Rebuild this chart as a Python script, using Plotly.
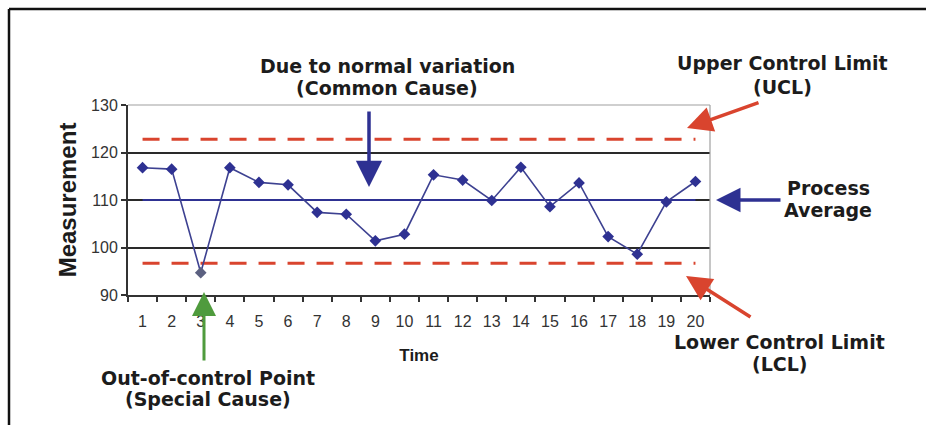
import plotly.graph_objects as go

# Control chart data
time_labels = [str(i) for i in range(1, 21)]
measurements = [116.8, 116.5, 94.7, 116.8, 113.7, 113.2, 107.4, 107.0, 101.4, 102.8,
                115.3, 114.2, 109.9, 116.9, 108.6, 113.6, 102.3, 98.6, 109.6, 113.9]
process_average = 110.0
upper_limit = 122.8
lower_limit = 96.7
y_ticks = [90, 100, 110, 120, 130]
grid_values = [100, 110, 120]

# Figure geometry (pixels)
W, H = 926, 425
ML, MR, MT, MB = 128, 216, 105, 130
PW, PH = W - ML - MR, H - MT - MB


def px(x):
    return (x - ML) / PW


def py(y):
    return (H - MB - y) / PH


NAVY = "#2e3192"
RED = "#d9442e"
GREEN = "#4f9b3d"
TEXT = "#1c1c1c"
ANN_FONT = dict(family="DejaVu Sans", size=19, color=TEXT, weight="bold")
TICK_FONT = dict(family="Liberation Sans, Arial", size=16, color="#333333")

fig = go.Figure()

fig.add_trace(go.Scatter(
    x=time_labels, y=[upper_limit] * len(time_labels), mode="lines",
    line=dict(color=RED, width=3, dash="17px,12px"), hoverinfo="skip", showlegend=False))
fig.add_trace(go.Scatter(
    x=time_labels, y=[lower_limit] * len(time_labels), mode="lines",
    line=dict(color=RED, width=3, dash="17px,12px"), hoverinfo="skip", showlegend=False))
fig.add_trace(go.Scatter(
    x=time_labels, y=[process_average] * len(time_labels), mode="lines",
    line=dict(color=NAVY, width=2), hoverinfo="skip", showlegend=False))

marker_colors = [NAVY] * len(measurements)
marker_colors[2] = "#5b6080"
fig.add_trace(go.Scatter(
    x=time_labels, y=measurements, mode="lines+markers",
    line=dict(color="#3d4191", width=1.6),
    marker=dict(symbol="diamond", size=9, color=marker_colors),
    showlegend=False))

# Invisible helper trace so the overlay axis for gridlines is active
fig.add_trace(go.Scatter(x=time_labels[:1], y=[process_average], yaxis="y2",
                         mode="markers", marker=dict(opacity=0), hoverinfo="skip",
                         showlegend=False))

fig.update_layout(
    width=W, height=H,
    margin=dict(l=ML, r=MR, t=MT, b=MB),
    paper_bgcolor="white", plot_bgcolor="white",
    xaxis=dict(
        type="category", range=[-0.5, 19.5], tickson="boundaries",
        ticks="outside", ticklen=5, tickwidth=1.5, tickcolor="#333333",
        showline=True, linecolor="#333333", linewidth=2, showgrid=False,
        tickfont=TICK_FONT, tickangle=0, ticklabelstandoff=11,
        title=dict(text="<b>Time</b>", font=dict(family="Liberation Sans, Arial", size=17, color=TEXT),
                   standoff=20),
    ),
    yaxis=dict(
        range=[90, 130], tickvals=y_ticks, ticks="outside", ticklen=5, tickwidth=1.5,
        tickcolor="#333333", showline=True, linecolor="#333333", linewidth=2,
        showgrid=False, zeroline=False, tickfont=TICK_FONT,
        title=dict(text="<b>Measurement</b>", font=dict(family="Liberation Sans, Arial", size=24, color=TEXT),
                   standoff=8),
    ),
    yaxis2=dict(
        overlaying="y", range=[90, 130], tickvals=grid_values, showticklabels=False,
        ticks="", showgrid=True, gridcolor="#2a2a2a", gridwidth=1.5, zeroline=False,
        showline=False,
    ),
)

# Plot-area border (top and right) and outer frame
shapes = [
    dict(type="line", xref="paper", yref="paper", x0=0, x1=1, y0=1, y1=1,
         line=dict(color="#a0a0a0", width=1.2), layer="above"),
    dict(type="line", xref="paper", yref="paper", x0=1, x1=1, y0=0, y1=1,
         line=dict(color="#a0a0a0", width=1.2), layer="above"),
    dict(type="line", xref="paper", yref="paper", x0=px(9), x1=px(W + 5), y0=py(9), y1=py(9),
         line=dict(color="#111111", width=2.5)),
    dict(type="line", xref="paper", yref="paper", x0=px(9), x1=px(9), y0=py(9), y1=py(H + 5),
         line=dict(color="#111111", width=2.5)),
]
fig.update_layout(shapes=shapes)

# Callout text
labels = [
    ("Due to normal variation", 387, 66),
    ("(Common Cause)", 387, 88),
    ("Upper Control Limit", 782, 63),
    ("(UCL)", 782, 87),
    ("Process", 828, 188),
    ("Average", 828, 210),
    ("Out-of-control Point", 208, 378),
    ("(Special Cause)", 208, 399),
    ("Lower Control Limit", 779, 342),
    ("(LCL)", 780, 364),
]
annotations = []
for text, x, y in labels:
    annotations.append(dict(text=text, xref="paper", yref="paper", x=px(x), y=py(y),
                            xanchor="center", yanchor="middle", showarrow=False,
                            borderpad=0, font=ANN_FONT))

# Callout arrows: (tip_x, tip_y, tail_x, tail_y, color, width, size)
arrows = [
    (369, 187, 369, 110, NAVY, 3.5, 1.5),
    (204, 292, 204, 362, GREEN, 3, 1.6),
    (687, 128, 760, 102, RED, 3.5, 1.45),
    (686, 276, 752, 318, RED, 3.5, 1.45),
    (716, 200, 782, 200, NAVY, 3.5, 1.4),
]
for tx, ty, sx, sy, color, width, size in arrows:
    annotations.append(dict(text="", xref="paper", yref="paper", x=px(tx), y=py(ty),
                            ax=sx - tx, ay=sy - ty, showarrow=True, arrowhead=2,
                            arrowcolor=color, arrowwidth=width, arrowsize=size, standoff=0))
fig.update_layout(annotations=annotations)

fig.write_html("out.html")
